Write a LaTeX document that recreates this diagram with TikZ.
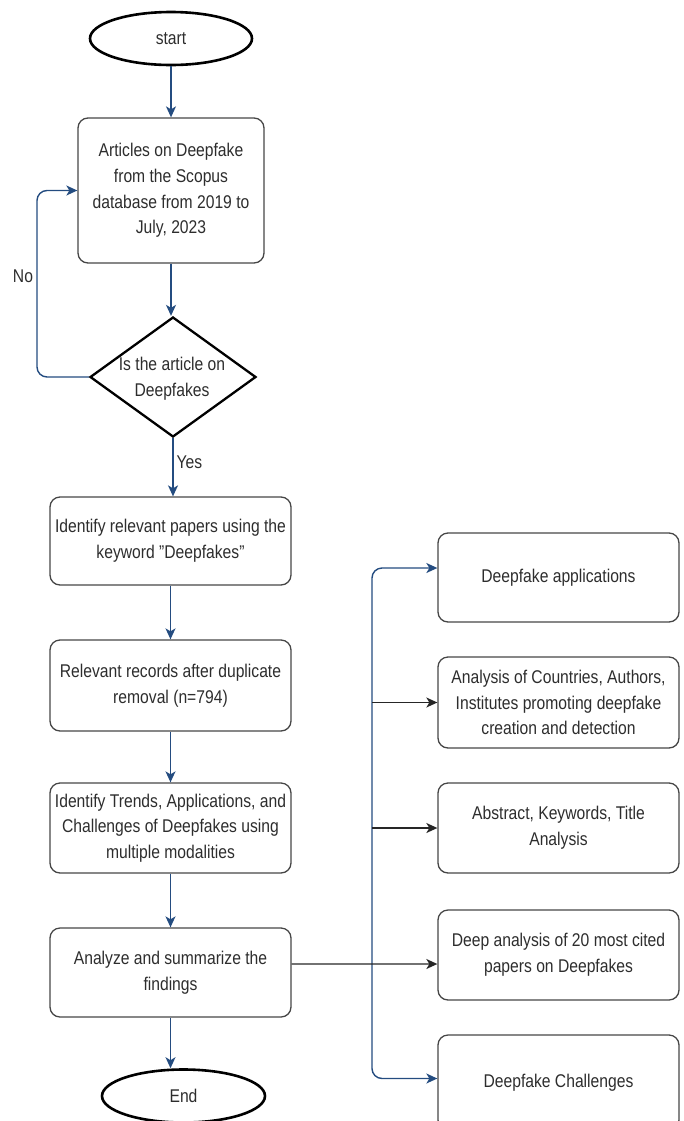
\documentclass[tikz,border=0pt]{standalone}
\usepackage{fontspec}
\setmainfont[FakeStretch=0.85]{Liberation Sans}
\usetikzlibrary{shapes.geometric,arrows.meta}
\definecolor{flowblue}{RGB}{36,76,128}
\definecolor{boxgray}{RGB}{70,70,70}
\definecolor{txt}{RGB}{45,45,45}
\tikzset{
  lbl/.style={font=\fontsize{18.5}{25.7}\selectfont, text=txt, align=center},
  procbox/.style={lbl, draw=boxgray, line width=1.3bp, rounded corners=10bp, minimum width=241bp, inner sep=0pt},
  term/.style={lbl, draw=black, line width=2.6bp, ellipse, minimum width=162bp, minimum height=53bp, inner sep=0pt},
  decision/.style={draw=black, line width=2.3bp, diamond, minimum width=166bp, minimum height=120bp, inner sep=0pt},
  bluearrow/.style={draw=flowblue, line width=1.4bp, -{Stealth[length=11bp,width=10bp,inset=3bp]}},
  blackarrow/.style={draw=black!85, line width=1.4bp, -{Stealth[length=11bp,width=10bp,inset=3bp]}}
}
\begin{document}
\begin{tikzpicture}[x=1bp,y=-1bp]
\useasboundingbox (0,0) rectangle (684,1121);
% main column
\node[term] (start) at (171,38.5) {start};
\node[procbox, minimum width=186bp, minimum height=145bp] (b1) at (171,190.5) {Articles on Deepfake\\from the Scopus\\database from 2019 to\\July, 2023};
\node[decision] (dec) at (173,377) {};
\node[lbl] (dectext) at (172,379) {Is the article on\\Deepfakes};
\node[procbox, minimum height=88bp] (b2) at (170.5,541) {Identify relevant papers using the\\keyword \symbol{34}Deepfakes\symbol{34}};
\node[procbox, minimum height=91bp] (b3) at (170.5,685.5) {Relevant records after duplicate\\removal (n=794)};
\node[procbox, minimum height=90bp] (b4) at (170.5,828) {Identify Trends, Applications, and\\Challenges of Deepfakes using\\multiple modalities};
\node[procbox, minimum height=89bp] (b5) at (170.5,972.5) {Analyze and summarize the\\findings};
\node[term, minimum width=163bp] (end) at (183.5,1096) {End};
% right column
\node[procbox, minimum height=89bp] (r1) at (558.5,577.5) {Deepfake applications};
\node[procbox, minimum height=91bp] (r2) at (558.5,702.5) {Analysis of Countries, Authors,\\Institutes promoting deepfake\\creation and detection};
\node[procbox, minimum height=90bp] (r3) at (558.5,828) {Abstract, Keywords, Title\\Analysis};
\node[procbox, minimum height=90bp] (r4) at (558.5,955) {Deep analysis of 20 most cited\\papers on Deepfakes};
\node[procbox, minimum height=95bp] (r5) at (558.5,1082.5) {Deepfake Challenges};
% labels
\node[lbl] (no) at (23,276) {No};
\node[lbl, anchor=west] (yes) at (173,462) {Yes};
\coordinate (loopx) at (37,0);
\coordinate (busx) at (372,0);
% connectors
\draw[bluearrow] (start.south) -- (b1.north -| start.south);
\draw[bluearrow] (b1.south) -- (b1.south |- dec.north);
\draw[bluearrow, rounded corners=10bp] (dec.west) -| (loopx |- b1.west) -- (b1.west);
\draw[bluearrow] (dec.south) -- (dec.south |- b2.north);
\draw[bluearrow] (b2.south) -- (b3.north);
\draw[bluearrow] (b3.south) -- (b4.north);
\draw[bluearrow] (b4.south) -- (b5.north);
\draw[bluearrow] (b5.south) -- (b5.south |- end.north);
% bus
\draw[draw=flowblue, line width=1.4bp, rounded corners=10bp, {Stealth[length=11bp,width=10bp,inset=3bp]}-{Stealth[length=11bp,width=10bp,inset=3bp]}]
  ([yshift=9.5bp]r1.west) -| (busx |- r3.west) |- ([yshift=4bp]r5.west);
\draw[blackarrow] (busx |- r2.west) -- (r2.west);
\draw[blackarrow] (busx |- r3.west) -- (r3.west);
\draw[blackarrow] ([yshift=8.5bp]b5.east) -- ([yshift=-9bp]r4.west);
\end{tikzpicture}
\end{document}
